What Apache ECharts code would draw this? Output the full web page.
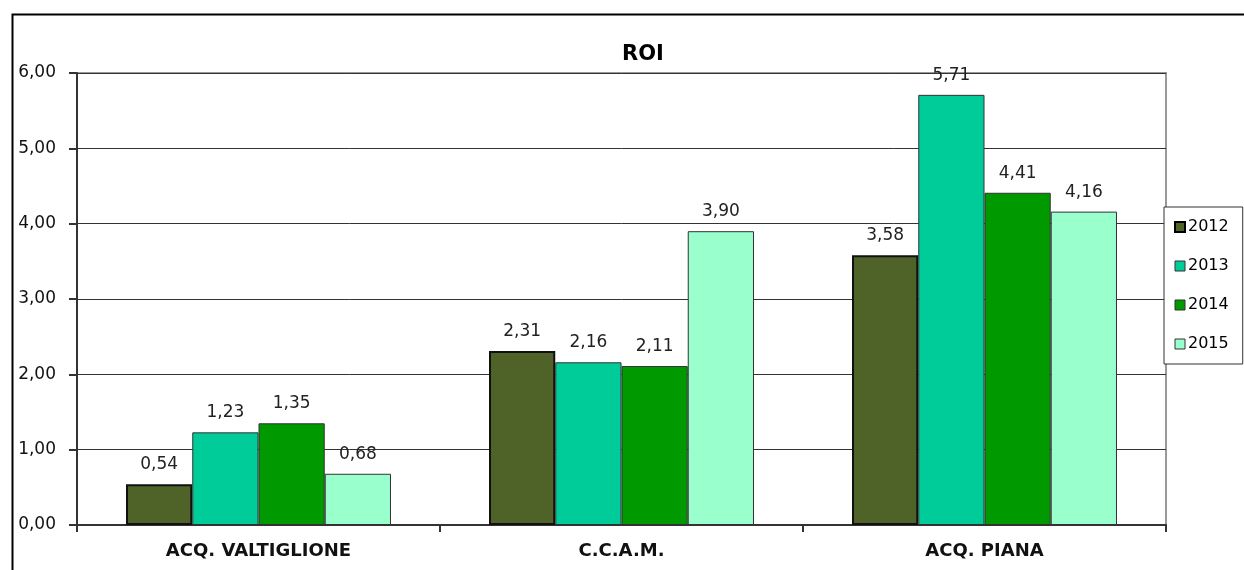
<!DOCTYPE html>
<html>
<head>
<meta charset="utf-8">
<script src="https://cdn.jsdelivr.net/npm/echarts@6/dist/echarts.min.js"></script>
<style>
  html, body { margin: 0; padding: 0; background: #fff; }
  #chart { width: 1244px; height: 570px; }
</style>
</head>
<body>
<div id="chart"></div>
<script>
// ROI per company and year
const categories = ['ACQ. VALTIGLIONE', 'C.C.A.M.', 'ACQ. PIANA'];
const years = ['2012', '2013', '2014', '2015'];
const roi2012 = [0.54, 2.31, 3.58];
const roi2013 = [1.23, 2.16, 5.71];
const roi2014 = [1.35, 2.11, 4.41];
const roi2015 = [0.68, 3.90, 4.16];
const yTicks = [0, 1, 2, 3, 4, 5, 6];

const colors = ['#4f6228', '#00cc99', '#009900', '#99ffcc'];
const borders = ['#111', '#333', '#333', '#333'];
const borderWidths = [2, 1, 1, 1];
const seriesValues = [roi2012, roi2013, roi2014, roi2015];

const fmt = v => Number(v).toFixed(2).replace('.', ',');
const font = 'DejaVu Sans, Verdana, sans-serif';

const chart = echarts.init(document.getElementById('chart'), null, { renderer: 'canvas' });

chart.setOption({
  animation: false,
  title: {
    text: 'ROI',
    left: 638, top: 39, textAlign: 'center',
    textStyle: { fontFamily: font, fontWeight: 'bold', fontSize: 21, color: '#000' }
  },
  legend: {
    orient: 'vertical',
    left: 1164, top: 207,
    padding: [12, 14, 12, 10],
    itemGap: 23,
    itemWidth: 10, itemHeight: 10,
    backgroundColor: '#fff',
    borderColor: '#333', borderWidth: 1, borderRadius: 0,
    textStyle: { fontFamily: font, fontSize: 16, color: '#000', padding: [0, 0, 0, -2] },
    data: years.map((y, i) => ({ name: y, icon: 'rect', itemStyle: { borderColor: i === 0 ? '#000' : '#333', borderWidth: i === 0 ? 2 : 1 } }))
  },
  graphic: [{
    type: 'rect', silent: true, z: -10,
    shape: { x: 12.5, y: 14.5, width: 1300, height: 700 },
    style: { fill: 'none', stroke: '#000', lineWidth: 2 }
  }],
  grid: {
    left: 77, right: 78, top: 73, bottom: 45,
    show: true, borderColor: '#999', borderWidth: 2, backgroundColor: '#fff'
  },
  xAxis: {
    type: 'category',
    data: categories,
    axisLine: { show: true, lineStyle: { color: '#333', width: 2 } },
    axisTick: { show: true, length: 7, lineStyle: { color: '#333', width: 2 } },
    axisLabel: {
      margin: 17,
      fontFamily: font, fontWeight: 'bold', fontSize: 18, color: '#111'
    }
  },
  yAxis: {
    type: 'value',
    min: 0, max: 6, interval: 1,
    axisLine: { show: true, lineStyle: { color: '#333', width: 2 } },
    axisTick: { show: true, length: 8, lineStyle: { color: '#333', width: 2 } },
    splitLine: { show: true, lineStyle: { color: '#333', width: 1 } },
    axisLabel: {
      margin: 21,
      fontFamily: font, fontSize: 17, color: '#111',
      formatter: v => yTicks.includes(v) ? fmt(v) : ''
    }
  },
  series: years.map((y, i) => ({
    name: y,
    type: 'bar',
    data: seriesValues[i],
    barGap: '0%',
    barCategoryGap: '27%',
    itemStyle: { color: colors[i], borderColor: borders[i], borderWidth: borderWidths[i] },
    label: {
      show: true, position: 'top', distance: 11,
      fontFamily: font, fontSize: 17, color: '#222',
      formatter: p => fmt(p.value)
    }
  }))
});
</script>
</body>
</html>
